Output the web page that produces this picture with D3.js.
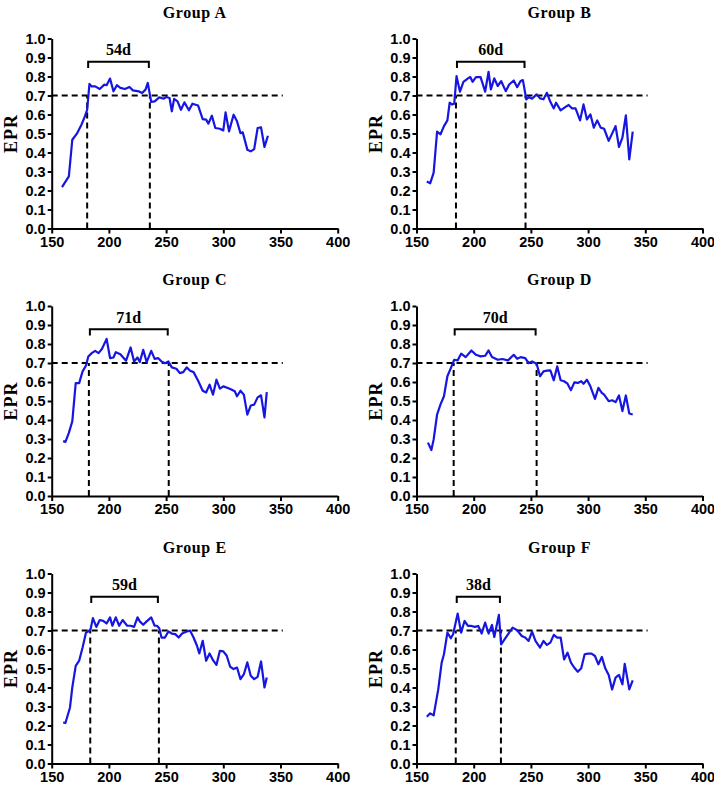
<!DOCTYPE html>
<html>
<head>
<meta charset="utf-8">
<script src="https://cdn.jsdelivr.net/npm/d3@7"></script>
<style>
  body { margin: 0; background: #fff; }
  .tick text { font-family: "Liberation Sans", Arial, sans-serif; font-weight: bold; font-size: 14.5px; fill: #000; }
  .domain, .tick line { stroke: #000; stroke-width: 2; }
  .title, .ylab, .span { font-family: "Liberation Serif", "Times New Roman", serif; font-weight: bold; fill: #000; }
</style>
</head>
<body>
<svg id="chart" width="714" height="790"></svg>
<script>
// EPR readings, [day, EPR]
var groupA = [[159,0.218],[165,0.274],[168,0.467],[172,0.499],[176,0.546],[179,0.590],[181,0.625],[183,0.761],[185,0.748],[188,0.748],[192,0.734],[196,0.757],[198,0.754],[201,0.789],[204,0.722],[207,0.754],[210,0.740],[214,0.734],[218,0.745],[221,0.727],[226,0.722],[229,0.713],[232,0.731],[234,0.766],[236,0.699],[237,0.666],[240,0.669],[244,0.690],[248,0.683],[250,0.692],[253,0.687],[255,0.617],[257,0.682],[260,0.669],[263,0.625],[266,0.664],[270,0.622],[273,0.657],[278,0.647],[282,0.576],[285,0.573],[287,0.552],[290,0.594],[293,0.529],[297,0.525],[300,0.516],[302,0.611],[305,0.511],[309,0.599],[312,0.564],[315,0.502],[317,0.506],[321,0.415],[324,0.406],[327,0.418],[330,0.529],[333,0.532],[336,0.429],[339,0.488]];
var groupB = [[159,0.247],[162,0.238],[165,0.294],[168,0.510],[171,0.496],[174,0.539],[177,0.569],[179,0.662],[181,0.653],[183,0.657],[185,0.802],[188,0.720],[191,0.772],[195,0.790],[197,0.797],[199,0.772],[202,0.797],[206,0.797],[210,0.720],[213,0.825],[215,0.732],[218,0.790],[221,0.750],[224,0.776],[228,0.723],[231,0.758],[235,0.779],[238,0.744],[241,0.776],[243,0.781],[246,0.679],[248,0.692],[251,0.683],[255,0.706],[258,0.685],[261,0.680],[264,0.714],[267,0.667],[270,0.632],[272,0.662],[276,0.622],[280,0.639],[283,0.650],[286,0.632],[289,0.632],[293,0.569],[296,0.653],[299,0.574],[302,0.601],[305,0.531],[308,0.569],[311,0.531],[314,0.525],[318,0.461],[324,0.539],[327,0.429],[330,0.478],[333,0.595],[336,0.364],[339,0.510]];
var groupC = [[160,0.289],[162,0.285],[165,0.332],[168,0.393],[171,0.594],[174,0.594],[177,0.656],[180,0.687],[182,0.734],[185,0.752],[188,0.764],[191,0.752],[194,0.775],[198,0.827],[201,0.726],[204,0.729],[206,0.757],[210,0.746],[215,0.712],[219,0.782],[222,0.708],[225,0.729],[227,0.705],[230,0.769],[233,0.705],[237,0.764],[240,0.722],[243,0.726],[246,0.708],[249,0.699],[252,0.708],[255,0.677],[259,0.670],[262,0.647],[265,0.652],[268,0.677],[271,0.659],[274,0.652],[278,0.607],[282,0.554],[285,0.545],[288,0.586],[291,0.533],[294,0.612],[297,0.565],[300,0.577],[304,0.568],[307,0.560],[310,0.551],[312,0.525],[315,0.554],[318,0.533],[321,0.428],[324,0.476],[327,0.481],[330,0.519],[333,0.530],[336,0.414],[338,0.547]];
var groupD = [[160,0.281],[163,0.242],[165,0.298],[168,0.429],[171,0.482],[174,0.525],[177,0.630],[180,0.673],[183,0.717],[186,0.714],[189,0.749],[193,0.731],[198,0.766],[202,0.743],[206,0.735],[210,0.738],[213,0.766],[216,0.731],[221,0.717],[225,0.721],[230,0.714],[235,0.743],[238,0.722],[241,0.731],[245,0.726],[248,0.700],[251,0.708],[255,0.696],[258,0.630],[261,0.656],[264,0.660],[267,0.661],[270,0.609],[273,0.682],[276,0.609],[279,0.604],[282,0.591],[285,0.557],[288,0.598],[291,0.595],[294,0.604],[296,0.591],[299,0.612],[302,0.577],[306,0.511],[309,0.569],[312,0.543],[314,0.534],[318,0.499],[321,0.504],[324,0.494],[327,0.529],[330,0.447],[333,0.529],[336,0.434],[339,0.429]];
var groupE = [[160,0.216],[162,0.213],[166,0.295],[168,0.400],[171,0.514],[174,0.541],[177,0.611],[180,0.690],[182,0.695],[184,0.707],[186,0.765],[189,0.719],[192,0.755],[195,0.751],[198,0.737],[201,0.769],[203,0.725],[206,0.769],[209,0.725],[212,0.755],[216,0.725],[219,0.725],[222,0.719],[225,0.769],[227,0.748],[230,0.730],[233,0.748],[237,0.769],[240,0.725],[242,0.725],[244,0.712],[246,0.663],[249,0.663],[252,0.695],[255,0.684],[258,0.681],[261,0.663],[264,0.684],[268,0.695],[271,0.699],[274,0.663],[277,0.620],[279,0.579],[282,0.646],[285,0.541],[288,0.579],[291,0.544],[294,0.519],[297,0.593],[300,0.590],[303,0.567],[306,0.509],[309,0.497],[312,0.505],[315,0.444],[318,0.470],[321,0.532],[324,0.462],[327,0.444],[330,0.456],[333,0.537],[336,0.400],[338,0.453]];
var groupF = [[159,0.246],[162,0.264],[165,0.253],[169,0.390],[172,0.531],[174,0.575],[177,0.689],[180,0.659],[182,0.680],[186,0.789],[189,0.689],[192,0.750],[195,0.724],[198,0.724],[201,0.719],[204,0.724],[207,0.684],[210,0.742],[213,0.684],[216,0.729],[218,0.666],[222,0.782],[224,0.627],[228,0.663],[231,0.689],[234,0.715],[238,0.701],[242,0.671],[245,0.663],[248,0.645],[251,0.694],[254,0.645],[258,0.610],[261,0.645],[264,0.624],[267,0.636],[270,0.677],[273,0.663],[276,0.663],[279,0.548],[282,0.583],[285,0.531],[288,0.504],[291,0.483],[294,0.501],[297,0.575],[300,0.578],[303,0.578],[306,0.566],[309,0.522],[312,0.561],[315,0.501],[318,0.466],[321,0.390],[324,0.452],[327,0.466],[330,0.417],[332,0.525],[336,0.390],[339,0.438]];

var groupNames = ["Group A", "Group B", "Group C", "Group D", "Group E", "Group F"];
var groupSeries = [groupA, groupB, groupC, groupD, groupE, groupF];
var spanStart = [181, 184.5, 182.5, 182.5, 183.7, 184.3];
var spanEnd = [235.8, 245.3, 252.3, 255, 243.7, 223.8];
var spanLabels = ["54d", "60d", "71d", "70d", "59d", "38d"];
var threshold = 0.7;
var thresholdEnd = 352;
var xTicks = [150, 200, 250, 300, 350, 400];

var svg = d3.select("#chart");
var colLeft = [51.7, 416.5];
var rowTop = [38.5, 306, 573.5];
var plotW = 286, plotH = 190;

groupNames.forEach(function(name, i) {
    var g = svg.append("g")
        .attr("transform", "translate(" + colLeft[i % 2] + "," + rowTop[Math.floor(i / 2)] + ")");

    var x = d3.scaleLinear().domain([150, 400]).range([0, plotW]);
    var y = d3.scaleLinear().domain([0, 1]).range([plotH, 0]);

    // reference lines
    g.append("line")
        .attr("x1", x(150)).attr("x2", x(thresholdEnd))
        .attr("y1", y(threshold)).attr("y2", y(threshold))
        .attr("stroke", "#000").attr("stroke-width", 2).attr("stroke-dasharray", "6,4");
    [spanStart[i], spanEnd[i]].forEach(function(d) {
        g.append("line")
            .attr("x1", x(d)).attr("x2", x(d))
            .attr("y1", y(0)).attr("y2", y(threshold))
            .attr("stroke", "#000").attr("stroke-width", 2).attr("stroke-dasharray", "6,4");
    });

    // the series
    g.append("path")
        .datum(groupSeries[i])
        .attr("fill", "none")
        .attr("stroke", "#1616e2")
        .attr("stroke-width", 2.2)
        .attr("stroke-linejoin", "round")
        .attr("d", d3.line().x(function(d) { return x(d[0]); }).y(function(d) { return y(d[1]); }));

    // bracket
    var b0 = x(spanStart[i]) + 1, b1 = x(spanEnd[i]) - 1;
    g.append("path")
        .attr("d", "M" + b0 + "," + y(0.845) + "V" + y(0.877) + "H" + b1 + "V" + y(0.845))
        .attr("fill", "none").attr("stroke", "#000").attr("stroke-width", 2);
    g.append("text")
        .attr("class", "span")
        .attr("x", (b0 + b1) / 2)
        .attr("y", y(0.913))
        .attr("text-anchor", "middle")
        .style("font-size", "16px")
        .text(spanLabels[i]);

    // axes
    g.append("g")
        .attr("transform", "translate(0," + plotH + ")")
        .call(d3.axisBottom(x).tickValues(xTicks).tickFormat(d3.format("d")).tickSize(5).tickSizeOuter(0).tickPadding(3));
    g.append("g")
        .call(d3.axisLeft(y).ticks(10).tickFormat(d3.format(".1f")).tickSize(4).tickSizeOuter(0).tickPadding(2));

    g.append("text")
        .attr("class", "title")
        .attr("x", plotW / 2)
        .attr("y", -21)
        .attr("text-anchor", "middle")
        .style("font-size", "16px")
        .style("letter-spacing", "0.6px")
        .text(name);

    g.append("text")
        .attr("class", "ylab")
        .attr("transform", "translate(-35," + (plotH / 2) + ") rotate(-90)")
        .attr("text-anchor", "middle")
        .style("font-size", "18px")
        .style("letter-spacing", "1px")
        .text("EPR");
});
</script>
</body>
</html>
